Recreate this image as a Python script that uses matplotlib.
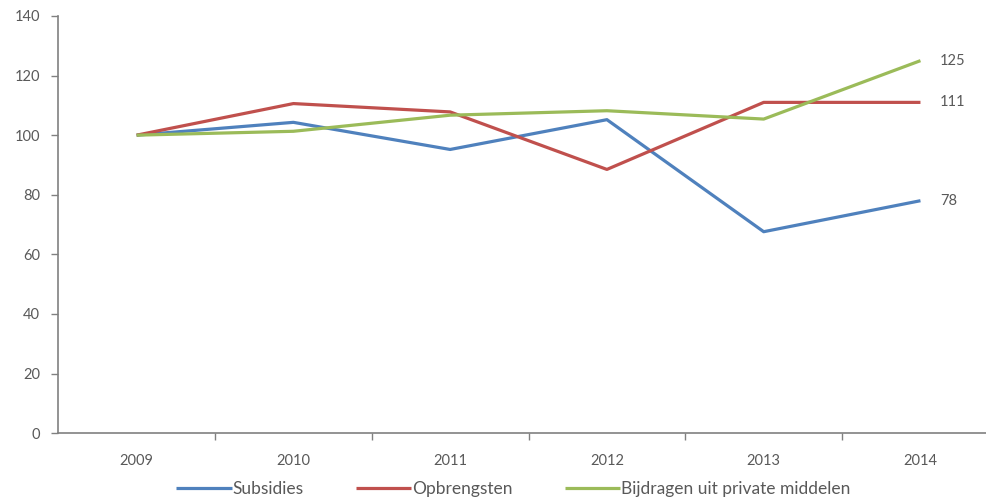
import matplotlib
matplotlib.use("Agg")
import matplotlib.pyplot as plt

# Data (index, 2009 = 100)
years = ["2009", "2010", "2011", "2012", "2013", "2014"]
subsidies = [100, 104.3, 95.2, 105.2, 67.6, 78]
opbrengsten = [100, 110.6, 107.8, 88.5, 111, 111]
bijdragen = [100, 101.3, 106.7, 108.2, 105.4, 125]
end_labels = ["78", "111", "125"]

series_names = ["Subsidies", "Opbrengsten", "Bijdragen uit private middelen"]
colors = ["#4F81BD", "#C0504D", "#9BBB59"]
text_color = "#595959"

plt.rcParams["font.family"] = ["Lato", "DejaVu Sans"]

fig = plt.figure(figsize=(9.87, 4.99), dpi=100)
ax = fig.add_axes([0.059, 0.132, 0.953, 0.836])

x = list(range(len(years)))
all_series = [subsidies, opbrengsten, bijdragen]
for vals, name, col, lab in zip(all_series, series_names, colors, end_labels):
    ax.plot(x, vals, color=col, lw=2.3, label=name, solid_capstyle="butt")
    ax.annotate(lab, (x[-1], vals[-1]), xytext=(14, 0), textcoords="offset points",
                va="center", ha="left", fontsize=10.5, color=text_color)

ax.set_xlim(-0.5, len(years) - 0.5)
ax.set_ylim(0, 140)
ax.set_yticks(range(0, 141, 20))

# category labels centered, tick marks on boundaries
ax.set_xticks(x)
ax.set_xticklabels(years)
ax.set_xticks([i + 0.5 for i in range(len(years) - 1)], minor=True)
ax.tick_params(axis="x", which="major", length=0, pad=15, labelsize=10.5, labelcolor=text_color)
ax.tick_params(axis="x", which="minor", length=5, direction="out", color="#808080", width=1)
ax.tick_params(axis="y", length=5, direction="out", color="#808080", width=1,
               pad=8, labelsize=10.5, labelcolor=text_color)

for s in ["top", "right"]:
    ax.spines[s].set_visible(False)
for s in ["left", "bottom"]:
    ax.spines[s].set_color("#808080")
    ax.spines[s].set_linewidth(1.2)

fig.legend(loc="lower center", bbox_to_anchor=(0.52, -0.027), ncol=3, frameon=False,
           fontsize=12.5, handlelength=3.2, handletextpad=0.05, columnspacing=3.0,
           labelcolor=text_color)

fig.savefig("out.png", dpi=100)
